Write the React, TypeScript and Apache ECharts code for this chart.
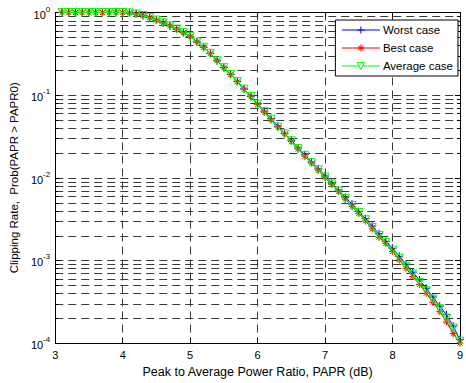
import React, { useEffect, useRef } from "react";
import * as echarts from "echarts";

const PAPR_DB = [
  3.1, 3.2, 3.3, 3.4, 3.5, 3.6, 3.7, 3.8, 3.9, 4.0,
  4.1, 4.2, 4.3, 4.4, 4.5, 4.6, 4.7, 4.8, 4.9, 5.0,
  5.1, 5.2, 5.3, 5.4, 5.5, 5.6, 5.7, 5.8, 5.9, 6.0,
  6.1, 6.2, 6.3, 6.4, 6.5, 6.6, 6.7, 6.8, 6.9, 7.0,
  7.1, 7.2, 7.3, 7.4, 7.5, 7.6, 7.7, 7.8, 7.9, 8.0,
  8.1, 8.2, 8.3, 8.4, 8.5, 8.6, 8.7, 8.8, 8.9, 9.0,
];

const WORST_CASE = [
  1, 1, 1, 1, 1, 1, 1, 1, 1, 0.999,
  0.99, 0.96, 0.92, 0.87, 0.81, 0.75, 0.69, 0.63, 0.57, 0.51,
  0.44, 0.38, 0.32, 0.26, 0.216, 0.179, 0.147, 0.119, 0.097, 0.079,
  0.064, 0.052, 0.042, 0.0345, 0.0285, 0.023, 0.019, 0.0155, 0.0128, 0.0105,
  0.0086, 0.0071, 0.0058, 0.0048, 0.0039, 0.0032, 0.0026, 0.0021, 0.0017, 0.0014,
  0.00112, 0.0009, 0.00072, 0.00058, 0.00046, 0.00036, 0.00028, 0.00022, 0.00016, 0.00011,
];

const BEST_CASE = [
  1, 1, 1, 1, 1, 1, 1, 1, 1, 0.999,
  0.99, 0.96, 0.92, 0.87, 0.81, 0.75, 0.69, 0.63, 0.57, 0.51,
  0.44, 0.38, 0.32, 0.26, 0.214, 0.177, 0.145, 0.117, 0.095, 0.077,
  0.062, 0.05, 0.041, 0.034, 0.0275, 0.0222, 0.0182, 0.015, 0.0123, 0.0101,
  0.0083, 0.0068, 0.0055, 0.0045, 0.0037, 0.003, 0.0024, 0.0019, 0.0016, 0.00128,
  0.00101, 0.0008, 0.00064, 0.00051, 0.0004, 0.00031, 0.00024, 0.00018, 0.00013, 0.0001,
];

const AVERAGE_CASE = [
  1, 1, 1, 1, 1, 1, 1, 1, 1, 0.999,
  0.99, 0.96, 0.92, 0.87, 0.81, 0.75, 0.69, 0.63, 0.57, 0.51,
  0.44, 0.38, 0.32, 0.26, 0.215, 0.178, 0.146, 0.118, 0.096, 0.078,
  0.063, 0.051, 0.041, 0.034, 0.028, 0.0225, 0.0185, 0.0152, 0.0125, 0.0102,
  0.0084, 0.0069, 0.0056, 0.0046, 0.0038, 0.0031, 0.0025, 0.002, 0.00165, 0.00133,
  0.00106, 0.00085, 0.00068, 0.00054, 0.00043, 0.00034, 0.00026, 0.0002, 0.000152, 0.000105,
];

const SERIES_NAMES = ["Worst case", "Best case", "Average case"];
const SERIES_COLORS = ["#0000ff", "#ff0000", "#00ff00"];
const DECADES = [1e-4, 1e-3, 1e-2, 1e-1];
const MINOR_MULTIPLIERS = [2, 3, 4, 5, 6, 7, 8, 9];

const FONT = "'Liberation Sans', Arial, Helvetica, sans-serif";
const GRID_COLOR = "#3a3a3a";
const DASH = [8, 5];

const PLUS = "path://M5,0L5,10M0,5L10,5";
const STAR = "path://M5,0L5,10M0,5L10,5M1.5,1.5L8.5,8.5M1.5,8.5L8.5,1.5";

export default function App() {
  const ref = useRef<HTMLDivElement>(null);

  useEffect(() => {
    if (!ref.current) return;
    const chart = echarts.init(ref.current, null, { renderer: "svg" });

    const minorLevels: number[] = [];
    DECADES.forEach((d) => MINOR_MULTIPLIERS.forEach((m) => minorLevels.push(m * d)));

    const pairs = (ys: number[]) => PAPR_DB.map((x, i) => [x, ys[i]]);

    const option: any = {
      animation: false,
      backgroundColor: "#fff",
      textStyle: { fontFamily: FONT, color: "#000" },
      grid: { left: 55, right: 4, top: 12.5, bottom: 38, containLabel: false },
      legend: {
        data: [
          {
            name: SERIES_NAMES[0],
            lineStyle: { color: SERIES_COLORS[0], width: 1 },
            itemStyle: { color: SERIES_COLORS[0], borderColor: SERIES_COLORS[0], borderWidth: 1 },
          },
          {
            name: SERIES_NAMES[1],
            lineStyle: { color: SERIES_COLORS[1], width: 1 },
            itemStyle: { color: SERIES_COLORS[1], borderColor: SERIES_COLORS[1], borderWidth: 1 },
          },
          {
            name: SERIES_NAMES[2],
            lineStyle: { color: SERIES_COLORS[2], width: 1 },
            itemStyle: { color: "#fff", borderColor: SERIES_COLORS[2], borderWidth: 1 },
          },
        ],
        orient: "vertical",
        right: 8,
        top: 20,
        backgroundColor: "#fff",
        borderColor: "#000",
        borderWidth: 1,
        borderRadius: 0,
        padding: [4, 5, 4, 6],
        itemWidth: 38,
        itemHeight: 9,
        itemGap: 6,
        selectedMode: false,
        textStyle: { fontFamily: FONT, fontSize: 11.5, color: "#000", padding: [0, 0, 0, -2] },
      },
      xAxis: [
        {
          type: "value",
          min: 3,
          max: 9,
          interval: 1,
          name: "Peak to Average Power Ratio, PAPR (dB)",
          nameLocation: "middle",
          nameGap: 22,
          nameTextStyle: { fontFamily: FONT, fontSize: 12.5, color: "#000" },
          axisLine: { show: true, onZero: false, lineStyle: { color: "#000", width: 1 } },
          axisTick: { show: true, inside: true, length: 5, lineStyle: { color: "#000" } },
          axisLabel: { fontFamily: FONT, fontSize: 11, color: "#000", margin: 6 },
          splitLine: { show: true, lineStyle: { color: GRID_COLOR, type: DASH, width: 1 } },
        },
        {
          type: "value",
          position: "top",
          min: 3,
          max: 9,
          interval: 1,
          axisLine: { show: true, onZero: false, lineStyle: { color: "#000", width: 1 } },
          axisTick: { show: true, inside: true, length: 5, lineStyle: { color: "#000" } },
          axisLabel: { show: false },
          splitLine: { show: false },
        },
      ],
      yAxis: [
        {
          type: "log",
          logBase: 10,
          min: 1e-4,
          max: 1,
          name: "Clipping Rate,  Prob(PAPR > PAPR0)",
          nameLocation: "middle",
          nameGap: 33,
          nameTextStyle: { fontFamily: FONT, fontSize: 11.5, color: "#000" },
          axisLine: { show: true, onZero: false, lineStyle: { color: "#000", width: 1 } },
          axisTick: { show: true, inside: true, length: 5, lineStyle: { color: "#000" } },
          axisLabel: {
            color: "#000",
            margin: 5,
            formatter: (v: number) => `{b|10}{s|${Math.round(Math.log10(v))}}`,
            rich: {
              b: { fontFamily: FONT, fontSize: 11, color: "#000", verticalAlign: "bottom" },
              s: { fontFamily: FONT, fontSize: 8, color: "#000", verticalAlign: "bottom", padding: [0, 0, 7, 0] },
            },
          },
          splitLine: { show: true, lineStyle: { color: GRID_COLOR, type: DASH, width: 1 } },
        },
        {
          type: "log",
          logBase: 10,
          min: 1e-4,
          max: 1,
          position: "right",
          axisLine: { show: true, onZero: false, lineStyle: { color: "#000", width: 1 } },
          axisTick: { show: true, inside: true, length: 5, lineStyle: { color: "#000" } },
          axisLabel: { show: false },
          splitLine: { show: false },
        },
      ],
      series: [
        {
          type: "custom",
          name: "minor",
          xAxisIndex: 0,
          yAxisIndex: 0,
          silent: true,
          z: 1,
          clip: false,
          data: minorLevels.map((v) => [3, v]),
          encode: { x: 0, y: 1 },
          renderItem: (params: any, api: any) => {
            const v = api.value(1);
            const y = Math.round(api.coord([3, v])[1]) + 0.5;
            const cs = params.coordSys;
            const x0 = cs.x;
            const x1 = cs.x + cs.width;
            return {
              type: "group",
              children: [
                {
                  type: "line",
                  shape: { x1: x0, y1: y, x2: x1, y2: y },
                  style: { stroke: GRID_COLOR, lineWidth: 1, lineDash: DASH, fill: null },
                },
                {
                  type: "line",
                  shape: { x1: x0, y1: y, x2: x0 + 3, y2: y },
                  style: { stroke: "#000", lineWidth: 1, fill: null },
                },
                {
                  type: "line",
                  shape: { x1: x1 - 3, y1: y, x2: x1, y2: y },
                  style: { stroke: "#000", lineWidth: 1, fill: null },
                },
              ],
            };
          },
        },
        {
          type: "line",
          name: SERIES_NAMES[0],
          data: pairs(WORST_CASE),
          symbol: PLUS,
          symbolSize: 8,
          z: 3,
          lineStyle: { color: SERIES_COLORS[0], width: 1 },
          itemStyle: { color: SERIES_COLORS[0], borderColor: SERIES_COLORS[0], borderWidth: 1 },
        },
        {
          type: "line",
          name: SERIES_NAMES[1],
          data: pairs(BEST_CASE),
          symbol: STAR,
          symbolSize: 7,
          z: 4,
          lineStyle: { color: SERIES_COLORS[1], width: 1 },
          itemStyle: { color: SERIES_COLORS[1], borderColor: SERIES_COLORS[1], borderWidth: 1 },
        },
        {
          type: "line",
          name: SERIES_NAMES[2],
          data: pairs(AVERAGE_CASE),
          symbol: "triangle",
          symbolRotate: 180,
          symbolSize: 8,
          z: 5,
          lineStyle: { color: SERIES_COLORS[2], width: 1 },
          itemStyle: { color: "none", borderColor: SERIES_COLORS[2], borderWidth: 1 },
        },
      ],
    };

    chart.setOption(option);
    return () => chart.dispose();
  }, []);

  return (
    <div
      ref={ref}
      style={{ position: "fixed", left: 0, top: 0, width: 466, height: 383, background: "#fff" }}
    />
  );
}
